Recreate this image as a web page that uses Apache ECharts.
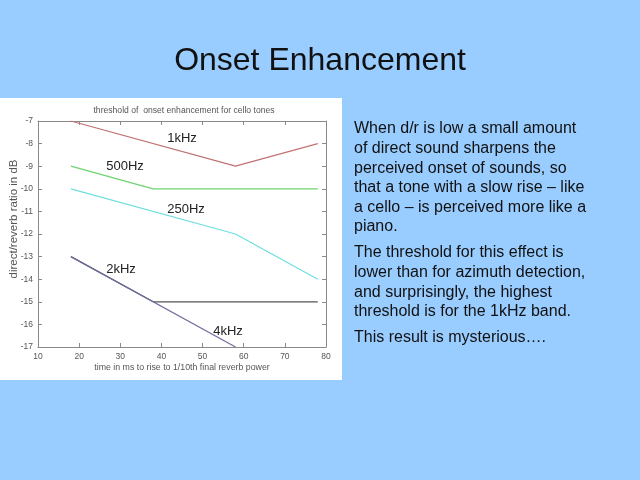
<!DOCTYPE html>
<html><head><meta charset="utf-8">
<script src="https://cdn.jsdelivr.net/npm/echarts@6/dist/echarts.min.js"></script>
<style>html,body{margin:0;padding:0;background:#99CCFF;}#c{width:640px;height:480px;}</style>
</head><body><div id="c"></div>
<script>
var xTicks = [10, 20, 30, 40, 50, 60, 70, 80];
var yTicks = [-7, -8, -9, -10, -11, -12, -13, -14, -15, -16, -17];
var s1kHz = [[18, -7], [58, -9], [78, -8]];
var s500Hz = [[18, -9], [38, -10], [78, -10]];
var s250Hz = [[18, -10], [58, -12], [78, -14]];
var s2kHz = [[18, -13], [38, -15], [78, -15]];
var s4kHz = [[18, -13], [58, -17]];
var seriesNames = ['1kHz', '500Hz', '250Hz', '2kHz', '4kHz'];
var paragraphs = [
  ['When d/r is low a small amount', 'of direct sound sharpens the', 'perceived onset of sounds, so', 'that a tone with a slow rise \u2013 like', 'a cello \u2013 is perceived more like a', 'piano.'],
  ['The threshold for this effect is', 'lower than for azimuth detection,', 'and surprisingly, the highest', 'threshold is for the 1kHz band.'],
  ['This result is mysterious\u2026.']
];

var chart = echarts.init(document.getElementById('c'));
var F = 'Liberation Sans, Arial, sans-serif';
var axisGray = '#8a8a8a';
function line(name, data, color, z) {
  return { name: name, type: 'line', data: data, symbol: 'none', z: z,
    lineStyle: { color: color, width: 1.2 }, animation: false };
}
var graphics = [
  { type: 'rect', z: -10, shape: { x: 0, y: 98, width: 342, height: 282 }, style: { fill: '#ffffff' } },
  { type: 'text', left: 'center', top: 45, style: { text: 'Onset Enhancement', font: '32px ' + F, fill: '#111' } },
  { type: 'text', x: 184, y: 111, style: { text: 'threshold of  onset enhancement for cello tones', font: '8.6px ' + F, fill: '#555', align: 'center', verticalAlign: 'middle' } },
  { type: 'text', x: 14, y: 219, rotation: Math.PI / 2, style: { text: 'direct/reverb ratio in dB', font: '11.5px ' + F, fill: '#555', align: 'center', verticalAlign: 'middle' } }
];
var labelPos = [[182, 138], [125, 166], [186, 209], [121, 269], [228, 331]];
seriesNames.forEach(function (n, i) {
  graphics.push({ type: 'text', x: labelPos[i][0], y: labelPos[i][1], z: 10,
    style: { text: n, font: '13px ' + F, fill: '#222', align: 'center', verticalAlign: 'middle' } });
});
var ty = 129;
paragraphs.forEach(function (p, pi) {
  p.forEach(function (t) {
    graphics.push({ type: 'text', x: 354, y: ty, style: { text: t, font: '16px ' + F, fill: '#111', verticalAlign: 'middle' } });
    ty += 19.6;
  });
  ty += 6.3;
});

chart.setOption({
  backgroundColor: '#99CCFF',
  animation: false,
  grid: { left: 38, right: 314, top: 121, bottom: 133 },
  xAxis: [
    { type: 'value', min: 10, max: 80, interval: 10, position: 'bottom',
      name: 'time in ms to rise to 1/10th final reverb power', nameLocation: 'middle', nameGap: 16,
      nameTextStyle: { fontFamily: F, fontSize: 8.8, color: '#555' },
      axisLine: { lineStyle: { color: axisGray } }, axisTick: { inside: true, length: 4, lineStyle: { color: axisGray } },
      axisLabel: { fontFamily: F, fontSize: 8.5, color: '#555', margin: 5 }, splitLine: { show: false } },
    { type: 'value', min: 10, max: 80, interval: 10, position: 'top',
      axisLine: { lineStyle: { color: axisGray } }, axisTick: { inside: true, length: 4, lineStyle: { color: axisGray } },
      axisLabel: { show: false }, splitLine: { show: false } }
  ],
  yAxis: [
    { type: 'value', min: -17, max: -7, interval: 1, position: 'left',
      axisLine: { show: true, lineStyle: { color: axisGray } }, axisTick: { show: true, inside: true, length: 4, lineStyle: { color: axisGray } },
      axisLabel: { fontFamily: F, fontSize: 8.5, color: '#555', margin: 5 }, splitLine: { show: false } },
    { type: 'value', min: -17, max: -7, interval: 1, position: 'right',
      axisLine: { show: true, lineStyle: { color: axisGray } }, axisTick: { show: true, inside: true, length: 4, lineStyle: { color: axisGray } },
      axisLabel: { show: false }, splitLine: { show: false } }
  ],
  series: [
    line('1kHz', s1kHz, '#c27272', 3),
    line('500Hz', s500Hz, '#6fd36f', 3),
    line('250Hz', s250Hz, '#6fdede', 3),
    line('2kHz', s2kHz, '#555555', 3),
    line('4kHz', s4kHz, '#6e6e9e', 4)
  ],
  graphic: graphics
});
</script></body></html>
